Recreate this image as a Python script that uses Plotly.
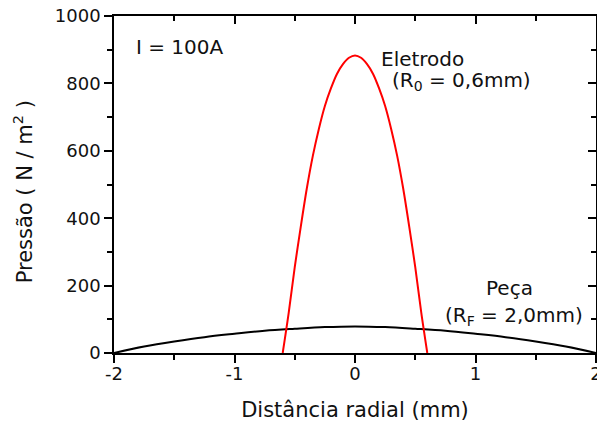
import plotly.graph_objects as go

# Electrode pressure (red)
r_eletrodo = [-0.6, -0.55, -0.5, -0.45, -0.4, -0.35, -0.3, -0.25, -0.2, -0.15, -0.1, -0.05, 0.0,
              0.05, 0.1, 0.15, 0.2, 0.25, 0.3, 0.35, 0.4, 0.45, 0.5, 0.55, 0.6]
p_eletrodo = [0, 120, 255, 375, 488, 585, 665, 733, 785, 828, 857, 876, 883,
              876, 857, 828, 785, 733, 665, 585, 488, 375, 255, 120, 0]

# Workpiece pressure (black)
r_peca = [-2.0, -1.75, -1.5, -1.25, -1.0, -0.75, -0.5, -0.25, 0.0, 0.25, 0.5, 0.75, 1.0, 1.25, 1.5, 1.75, 2.0]
p_peca = [0, 19, 34, 47, 57, 66, 72, 77, 79, 77, 72, 66, 57, 47, 34, 19, 0]

x_ticks = [-2, -1, 0, 1, 2]
y_ticks = [0, 200, 400, 600, 800, 1000]

FONT = "DejaVu Sans"

fig = go.Figure()
fig.add_trace(go.Scatter(x=r_peca, y=p_peca, mode="lines", line=dict(color="black", width=2, shape="spline"),
                         showlegend=False, hoverinfo="skip"))
fig.add_trace(go.Scatter(x=r_eletrodo, y=p_eletrodo, mode="lines", xaxis="x2", yaxis="y2",
                         line=dict(color="#ff0000", width=2, shape="spline", smoothing=0.8),
                         showlegend=False, hoverinfo="skip"))

axis_common = dict(showline=True, linecolor="black", linewidth=1.5, showgrid=False, zeroline=False,
                   automargin=False)

fig.update_layout(
    width=597, height=427,
    margin=dict(l=114, r=1, t=16, b=74),
    paper_bgcolor="white", plot_bgcolor="white",
    font=dict(family=FONT, color="#111111"),
    xaxis=dict(range=[-2, 2], tickvals=x_ticks, ticktext=[str(v) for v in x_ticks],
               ticks="outside", ticklen=8, tickwidth=1.5, tickcolor="black", mirror=True,
               minor=dict(dtick=0.5, ticks="outside", ticklen=5, tickwidth=1.5, tickcolor="black"),
               tickfont=dict(size=18, family=FONT), ticklabeloverflow="allow", ticklabelstandoff=-4,
               title=dict(text="Distância radial (mm)", font=dict(size=21, family=FONT), standoff=19),
               **axis_common),
    yaxis=dict(range=[0, 1000], tickvals=y_ticks, ticktext=[str(v) for v in y_ticks],
               ticks="outside", ticklen=8, tickwidth=1.5, tickcolor="black", mirror=True,
               minor=dict(dtick=100, ticks="outside", ticklen=5, tickwidth=1.5, tickcolor="black"),
               tickfont=dict(size=18, family=FONT), ticklabeloverflow="allow",
               **axis_common),
    xaxis2=dict(range=[-2, 2], overlaying="x", side="top", anchor="y", tickvals=x_ticks,
                ticks="inside", ticklen=8, tickwidth=1.5, tickcolor="black", showticklabels=False,
                minor=dict(dtick=0.5, ticks="inside", ticklen=5, tickwidth=1.5, tickcolor="black"),
                **axis_common),
    yaxis2=dict(range=[0, 1000], overlaying="y", side="right", anchor="x", tickvals=y_ticks,
                ticks="inside", ticklen=8, tickwidth=1.5, tickcolor="black", showticklabels=False,
                minor=dict(dtick=100, ticks="inside", ticklen=5, tickwidth=1.5, tickcolor="black"),
                **axis_common),
)

# y-axis title as rotated annotation for exact placement
fig.add_annotation(text="Pressão ( N / m<sup>2</sup> )", x=-0.188, y=0.478, xref="paper", yref="paper",
                   xanchor="center", yanchor="middle", textangle=-90, showarrow=False,
                   font=dict(size=21, family=FONT, color="#111111"))

ann_font = dict(size=20, family=FONT, color="#111111")
annotations = [
    ("I = 100A", -1.83, 908),
    ("Eletrodo", 0.203, 873),
    ("(R<sub>0</sub> = 0,6mm)", 0.294, 807),
    ("Peça", 1.072, 194),
    ("(R<sub>F</sub> = 2,0mm)", 0.733, 111),
]
for text, x, y in annotations:
    fig.add_annotation(text=text, x=x, y=y, xref="x", yref="y", xanchor="left", yanchor="middle",
                       showarrow=False, font=ann_font)

fig.write_html("out.html", config={"displayModeBar": False},
               post_script="document.body.style.margin='0';document.body.style.overflow='hidden';")
